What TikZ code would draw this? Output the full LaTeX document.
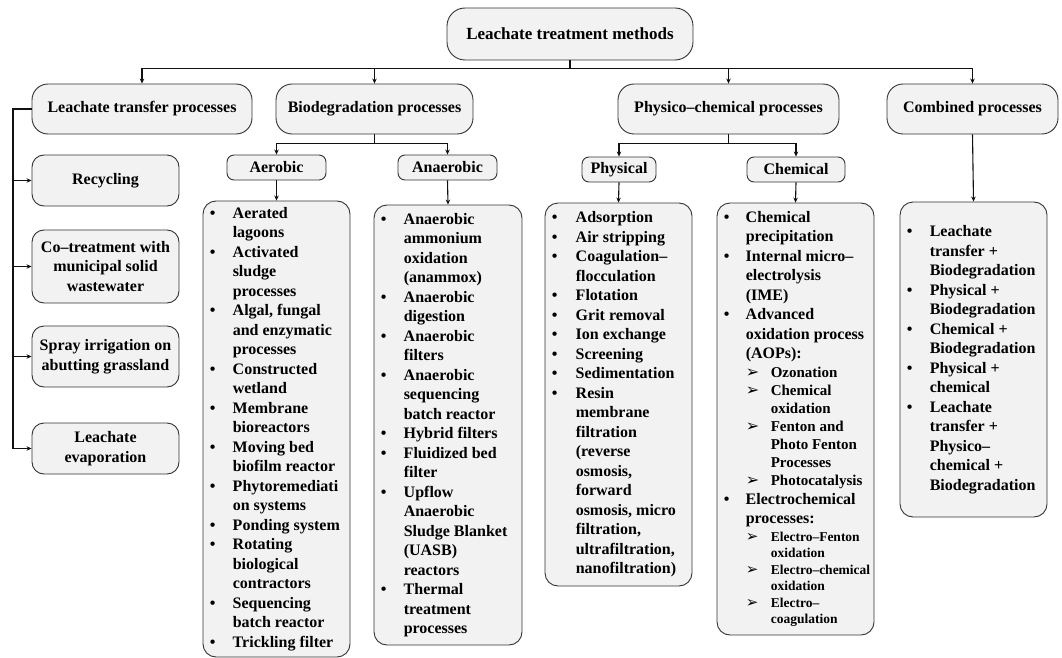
\documentclass[tikz,border=0pt]{standalone}
\usepackage{fontspec}
\setmainfont{Liberation Serif}
\newfontfamily\dejavu{DejaVu Sans}
\usepackage{tikz}
\usetikzlibrary{arrows.meta, positioning, calc}
\definecolor{CFill}{HTML}{F2F2F2}
\definecolor{CEdge}{HTML}{333333}
\definecolor{CLine}{HTML}{111111}
\newcommand{\aopsize}{\fontsize{15}{18}\selectfont}
\newcommand{\elsize}{\fontsize{13.5}{16.5}\selectfont}
\newcommand{\arrowhd}[1]{{\dejavu\fontsize{#1}{#1}\selectfont ➢}}

\begin{document}
\begin{tikzpicture}[x=1pt, y=-1pt,
    box/.style={draw=CEdge, fill=CFill, line width=0.9pt, rounded corners=#1, align=center,
        inner sep=2pt, font=\fontsize{16}{19.5}\selectfont\bfseries},
    box/.default=12pt,
    conn/.style={draw=CLine, line width=1.1pt, -{Stealth[length=5pt, width=4.5pt]}},
    bar/.style={draw=CLine, line width=1.1pt},
    listtext/.style={inner sep=0pt, font=\fontsize{16}{19.5}\selectfont\bfseries}]
    \useasboundingbox (0,0) rectangle (1062,658);

    % Root
    \node[box=18pt, minimum width=246pt, minimum height=52pt,
          font=\fontsize{17}{20}\selectfont\bfseries] (root) at (570,34) {Leachate treatment methods};

    % Main groups
    \node[box=16pt, minimum width=220pt, minimum height=50pt] (lt)   at (142,109)   {Leachate transfer processes};
    \node[box=16pt, minimum width=197pt, minimum height=50pt] (bio)  at (374.5,109) {Biodegradation processes};
    \node[box=16pt, minimum width=221pt, minimum height=50pt] (pc)   at (728.5,109) {Physico--chemical processes};
    \node[box=16pt, minimum width=171pt, minimum height=50pt] (comb) at (972.5,109) {Combined processes};

    \foreach \grp in {lt, bio, pc, comb}
        \draw[conn] (root.south) -- ++(0,8) -| (\grp.north);

    % Sub groups
    \node[box=7pt, minimum width=99pt, minimum height=25pt] (aer)  at (276.5,167.5) {Aerobic};
    \node[box=7pt, minimum width=99pt, minimum height=25pt] (ana)  at (447.5,167.5) {Anaerobic};
    \node[box=7pt, minimum width=74pt, minimum height=25pt] (phy)  at (619,169.5)   {Physical};
    \node[box=7pt, minimum width=98pt, minimum height=25pt] (chem) at (796,169.5)   {Chemical};

    \draw[conn] (bio.south) -- ++(0,9) -| (aer.north);
    \draw[conn] (bio.south) -- ++(0,9) -| (ana.north);
    \draw[conn] (pc.south) -- ++(0,9) -| (phy.north);
    \draw[conn] (pc.south) -- ++(0,9) -| (chem.north);

    % Leachate transfer branch
    \node[box, minimum width=147pt, minimum height=51pt] (rec)  at (105.5,180.5) {Recycling};
    \node[box, minimum width=147pt, minimum height=73pt] (cot)  at (105.5,266.5) {Co–treatment with\\municipal solid\\wastewater};
    \node[box, minimum width=147pt, minimum height=61pt] (spr)  at (105.5,356.5) {Spray irrigation on\\abutting grassland};
    \node[box, minimum width=147pt, minimum height=51pt] (evap) at (105.5,448.5) {Leachate\\evaporation};

    \coordinate (lbus) at (13,109);
    \draw[bar] (lt.west) -- (lbus) -- (lbus |- evap.west);
    \foreach \n in {rec, cot, spr, evap}
        \draw[conn] (lbus |- \n.west) -- (\n.west);

    % Lists
    \node[box=13pt, minimum width=147pt, minimum height=456pt] (aerL)  at (276.5,429)   {};
    \node[box=13pt, minimum width=148pt, minimum height=440pt] (anaL)  at (448,425)     {};
    \node[box=13pt, minimum width=147pt, minimum height=383pt] (phyL)  at (618.5,394.5) {};
    \node[box=13pt, minimum width=157pt, minimum height=432pt] (chemL) at (795.5,419)   {};
    \node[box=13pt, minimum width=147pt, minimum height=315pt] (combL) at (973.5,359.5) {};

    \draw[conn] (aer.south) -- (aerL.north);
    \draw[conn] (ana.south) -- (anaL.north);
    \draw[conn] (phy.south) -- (phyL.north);
    \draw[conn] (chem.south) -- (chemL.north);
    \draw[conn] (comb.south) -- (combL.north);

    \node[listtext, right=7pt of aerL.west] (aerT) {\begin{tabular}{@{}p{23pt}@{}l@{}}
        • & Aerated\\
          & lagoons\\
        • & Activated\\
          & sludge\\
          & processes\\
        • & Algal, fungal\\
          & and enzymatic\\
          & processes\\
        • & Constructed\\
          & wetland\\
        • & Membrane\\
          & bioreactors\\
        • & Moving bed\\
          & biofilm reactor\\
        • & Phytoremediati\\
          & on systems\\
        • & Ponding system\\
        • & Rotating\\
          & biological\\
          & contractors\\
        • & Sequencing\\
          & batch reactor\\
        • & Trickling filter
    \end{tabular}};

    \node[listtext, right=7pt of anaL.west] (anaT) {\begin{tabular}{@{}p{23pt}@{}l@{}}
        • & Anaerobic\\
          & ammonium\\
          & oxidation\\
          & (anammox)\\
        • & Anaerobic\\
          & digestion\\
        • & Anaerobic\\
          & filters\\
        • & Anaerobic\\
          & sequencing\\
          & batch reactor\\
        • & Hybrid filters\\
        • & Fluidized bed\\
          & filter\\
        • & Upflow\\
          & Anaerobic\\
          & Sludge Blanket\\
          & (UASB)\\
          & reactors\\
        • & Thermal\\
          & treatment\\
          & processes
    \end{tabular}};

    \node[listtext, right=7pt of phyL.west] (phyT) {\begin{tabular}{@{}p{24pt}@{}l@{}}
        • & Adsorption\\
        • & Air stripping\\
        • & Coagulation–\\
          & flocculation\\
        • & Flotation\\
        • & Grit removal\\
        • & Ion exchange\\
        • & Screening\\
        • & Sedimentation\\
        • & Resin\\
          & membrane\\
          & filtration\\
          & (reverse\\
          & osmosis,\\
          & forward\\
          & osmosis, micro\\
          & filtration,\\
          & ultrafiltration,\\
          & nanofiltration)
    \end{tabular}};

    \node[listtext, right=7pt of chemL.west] (chemT) {\begin{tabular}{@{}p{22pt}@{}p{25pt}@{}l@{}}
        • & \multicolumn{2}{@{}l@{}}{Chemical}\\
          & \multicolumn{2}{@{}l@{}}{precipitation}\\
        • & \multicolumn{2}{@{}l@{}}{Internal micro–}\\
          & \multicolumn{2}{@{}l@{}}{electrolysis}\\
          & \multicolumn{2}{@{}l@{}}{(IME)}\\
        • & \multicolumn{2}{@{}l@{}}{Advanced}\\
          & \multicolumn{2}{@{}l@{}}{oxidation process}\\
          & \multicolumn{2}{@{}l@{}}{(AOPs):}\\[-1pt]
          & \arrowhd{16} & \aopsize Ozonation\\[-1.5pt]
          & \arrowhd{16} & \aopsize Chemical\\[-1.5pt]
          & & \aopsize oxidation\\[-1.5pt]
          & \arrowhd{16} & \aopsize Fenton and\\[-1.5pt]
          & & \aopsize Photo Fenton\\[-1.5pt]
          & & \aopsize Processes\\[-1.5pt]
          & \arrowhd{16} & \aopsize Photocatalysis\\[-0.5pt]
        • & \multicolumn{2}{@{}l@{}}{Electrochemical}\\
          & \multicolumn{2}{@{}l@{}}{processes:}\\[-2pt]
          & \arrowhd{15} & \elsize Electro–Fenton\\[-3pt]
          & & \elsize oxidation\\[-3pt]
          & \arrowhd{15} & \elsize Electro–chemical\\[-3pt]
          & & \elsize oxidation\\[-3pt]
          & \arrowhd{15} & \elsize Electro–\\[-3pt]
          & & \elsize coagulation
    \end{tabular}};

    \node[listtext, right=7pt of combL.west] (combT) {\begin{tabular}{@{}p{23pt}@{}l@{}}
        • & Leachate\\
          & transfer +\\
          & Biodegradation\\
        • & Physical +\\
          & Biodegradation\\
        • & Chemical +\\
          & Biodegradation\\
        • & Physical +\\
          & chemical\\
        • & Leachate\\
          & transfer +\\
          & Physico–\\
          & chemical +\\
          & Biodegradation
    \end{tabular}};
\end{tikzpicture}
\end{document}
